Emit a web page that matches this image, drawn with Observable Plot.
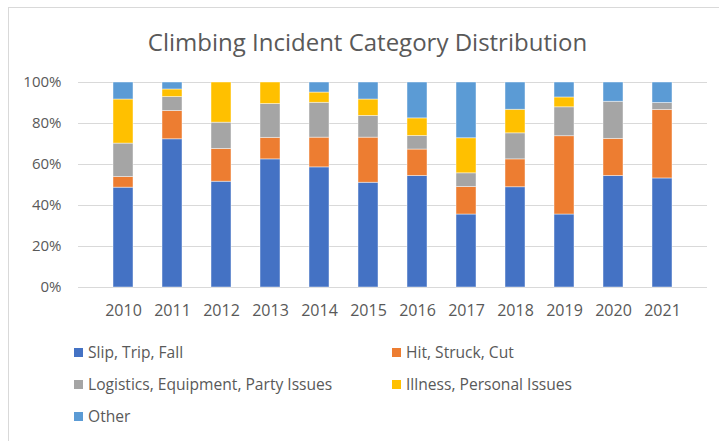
<!DOCTYPE html>
<html>
<head>
<meta charset="utf-8">
<script src="https://cdn.jsdelivr.net/npm/d3@7"></script>
<script src="https://cdn.jsdelivr.net/npm/@observablehq/plot@0.6"></script>
<style>
  body { margin: 0; background: #fff; }
  #wrap { position: relative; width: 719px; height: 441px; overflow: hidden; font-family: "Open Sans", sans-serif; color: #595959; }
  #frame { position: absolute; left: 8px; top: 7px; width: 760px; height: 500px; border: 1px solid #d9d9d9; box-sizing: border-box; }
  #title { position: absolute; left: 0; width: 735px; top: 24px; text-align: center; font-size: 24px; line-height: 36px; color: #595959; white-space: nowrap; }
  #chart { position: absolute; left: 0; top: 0; }
  .leg { position: absolute; font-size: 15.6px; line-height: 20px; white-space: nowrap; color: #595959; }
  .leg span.sw { position: absolute; left: -14px; top: 6px; width: 9px; height: 9px; }
</style>
</head>
<body>
<div id="wrap">
  <div id="frame"></div>
  <div id="title">Climbing Incident Category Distribution</div>
  <div id="chart"></div>
  <div id="legend"></div>
</div>
<script>
const years = ["2010","2011","2012","2013","2014","2015","2016","2017","2018","2019","2020","2021"];
const categories = ["Slip, Trip, Fall","Hit, Struck, Cut","Logistics, Equipment, Party Issues","Illness, Personal Issues","Other"];
const colors = ["#4472C4","#ED7D31","#A5A5A5","#FFC000","#5B9BD5"];
// shares in percent, per year
const slip      = [48.7, 72.3, 51.6, 62.5, 58.6, 51.1, 54.4, 35.6, 48.9, 35.6, 54.4, 53.2];
const hit       = [ 5.2, 13.8, 16.0, 10.5, 14.5, 22.0, 12.9, 13.4, 13.6, 38.2, 18.1, 33.4];
const logistics = [16.3,  6.8, 12.8, 16.5, 17.0, 10.6,  6.6,  6.7, 12.7, 14.1, 18.1,  3.4];
const illness   = [21.5,  3.7, 19.6, 10.5,  5.0,  8.0,  8.6, 17.1, 11.5,  4.8,  0.0,  0.0];
const other     = [ 8.3,  3.4,  0.0,  0.0,  4.9,  8.3, 17.5, 27.2, 13.3,  7.3,  9.4, 10.0];
const yTicks = [0, 0.2, 0.4, 0.6, 0.8, 1.0];

const series = [slip, hit, logistics, illness, other];
const rows = [];
years.forEach((y, i) => {
  const total = series.reduce((s, a) => s + a[i], 0);
  series.forEach((a, k) => rows.push({year: y, cat: categories[k], value: a[i] / total}));
});

const plot = Plot.plot({
  width: 719,
  height: 330,
  marginLeft: 78,
  marginRight: 12,
  marginTop: 82,
  marginBottom: 43,
  style: {fontFamily: "Open Sans, sans-serif", fontSize: "14px", color: "#595959", background: "transparent"},
  x: {domain: years, padding: 0.6, label: null},
  y: {domain: [0, 1], label: null},
  color: {domain: categories, range: colors},
  marks: [
    Plot.gridY(yTicks, {stroke: "#d9d9d9", strokeOpacity: 1, strokeWidth: 1.2}),
    Plot.barY(rows, {x: "year", y: "value", fill: "cat", order: categories, stroke: "#ffffff", strokeOpacity: 0.55, strokeWidth: 0.8}),
    Plot.axisX({tickSize: 0, tickPadding: 17, fontSize: 16}),
    Plot.axisY(yTicks, {tickSize: 0, tickPadding: 17, fontSize: 15, tickFormat: d => Math.round(d * 100) + "%"})
  ]
});
document.getElementById("chart").appendChild(plot);

const legend = document.getElementById("legend");
const pos = [[88, 342], [406, 342], [88, 374], [406, 374], [88, 406]];
categories.forEach((c, k) => {
  const d = document.createElement("div");
  d.className = "leg";
  d.style.left = pos[k][0] + "px";
  d.style.top = pos[k][1] + "px";
  d.innerHTML = `<span class="sw" style="background:${colors[k]}"></span>${c}`;
  legend.appendChild(d);
});
</script>
</body>
</html>
